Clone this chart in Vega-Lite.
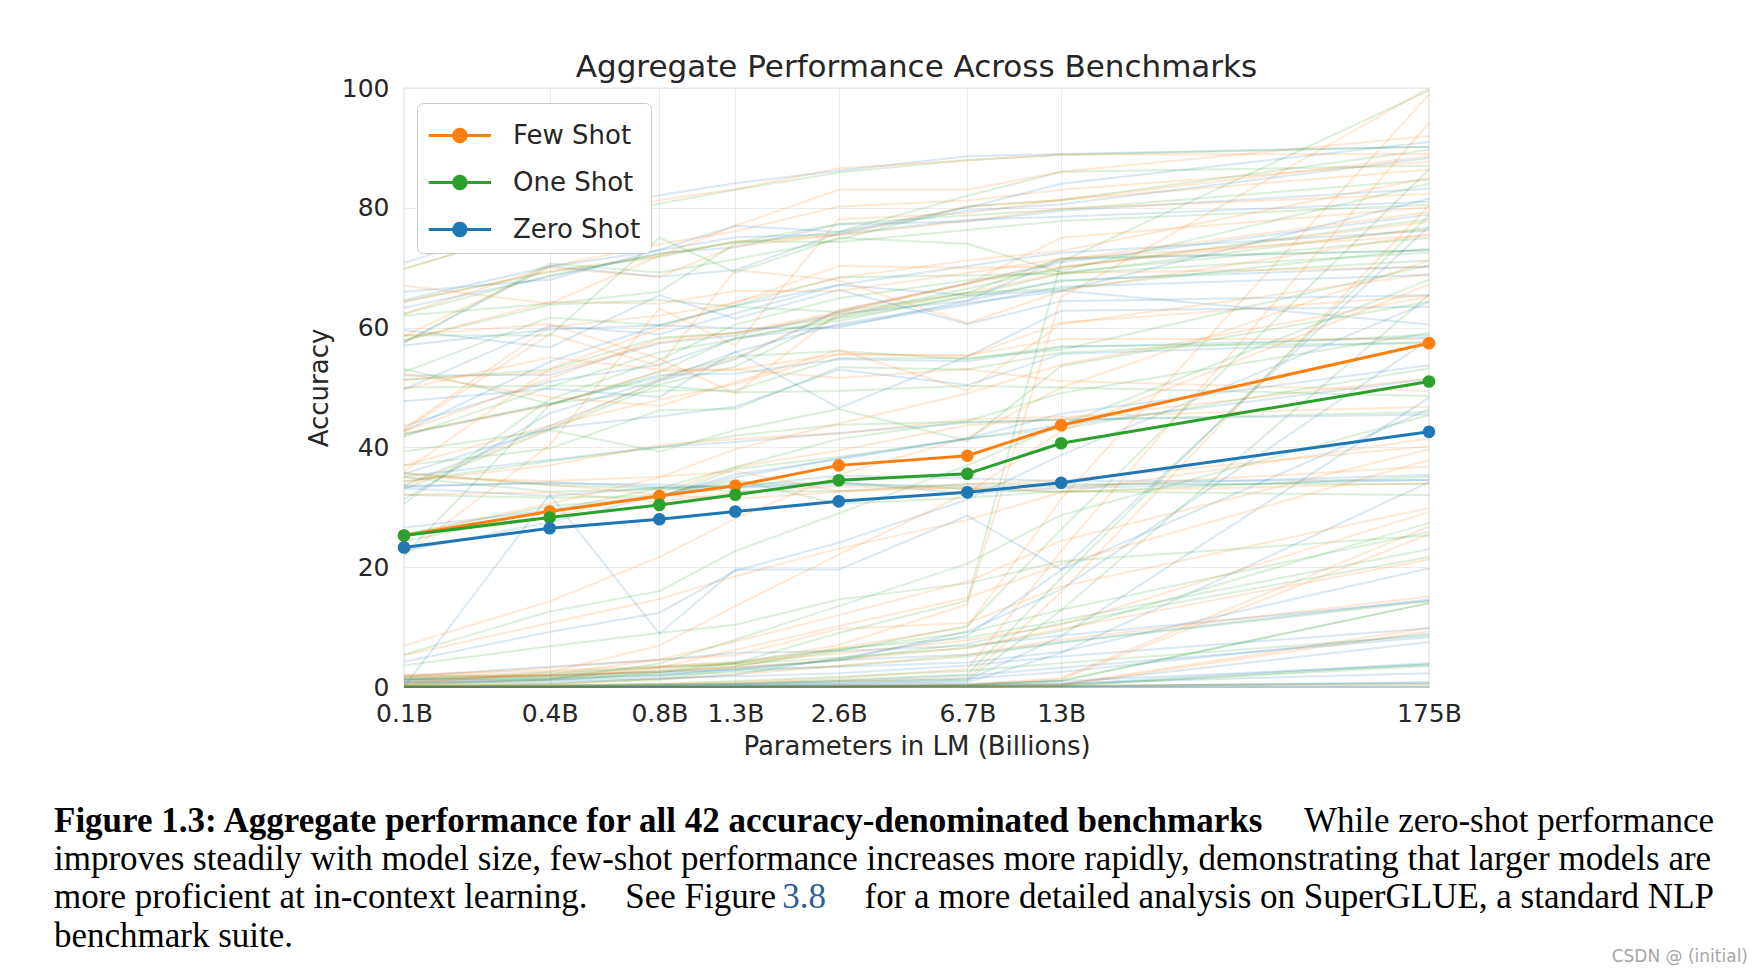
{
  "$schema": "https://vega.github.io/schema/vega-lite/v6.json",
  "width": 1025,
  "height": 599,
  "autosize": {"type": "none"},
  "padding": {"left": 404, "top": 88, "right": 334, "bottom": 288},
  "background": "white",
  "config": {
    "font": "DejaVu Sans",
    "view": {"stroke": "#cccccc", "strokeWidth": 1.25},
    "axis": {
      "grid": true, "gridColor": "#ebebeb", "gridWidth": 1,
      "domain": false, "ticks": false,
      "labelFont": "DejaVu Sans", "labelFontSize": 25, "labelColor": "#262626",
      "titleFont": "DejaVu Sans", "titleFontSize": 26, "titleFontWeight": "normal", "titleColor": "#262626",
      "labelFlush": false, "labelOverlap": false
    },
    "legend": {
      "orient": "none", "legendX": 13, "legendY": 15, "title": null,
      "symbolType": "M-1,0L2,0M0.8,0L0.777,0.115L0.712,0.212L0.615,0.277L0.5,0.3L0.385,0.277L0.288,0.212L0.223,0.115L0.2,0L0.223,-0.115L0.288,-0.212L0.385,-0.277L0.5,-0.3L0.615,-0.277L0.712,-0.212L0.777,-0.115Z",
      "symbolSize": 1722, "symbolStrokeWidth": 3, "symbolOpacity": 1,
      "labelFont": "DejaVu Sans", "labelFontSize": 26, "labelColor": "#262626",
      "labelOffset": 41, "rowPadding": 11, "padding": 10,
      "fillColor": "#ffffff", "strokeColor": "#cccccc", "cornerRadius": 6
    }
  },
  "title": {
    "text": "Aggregate Performance Across Benchmarks",
    "font": "DejaVu Sans", "fontSize": 31, "fontWeight": "normal", "color": "#262626",
    "anchor": "middle", "frame": "group", "offset": -32, "baseline": "alphabetic"
  },
  "datasets": {
    "sizes": [
      {"k": "v0", "size": 0.125}, {"k": "v1", "size": 0.35}, {"k": "v2", "size": 0.76}, {"k": "v3", "size": 1.3},
      {"k": "v4", "size": 2.7}, {"k": "v5", "size": 6.7}, {"k": "v6", "size": 13}, {"k": "v7", "size": 175}
    ],
    "main": [
      {"shot": "Few Shot", "size": 0.125, "acc": 25.3}, {"shot": "Few Shot", "size": 0.35, "acc": 29.3},
      {"shot": "Few Shot", "size": 0.76, "acc": 31.9}, {"shot": "Few Shot", "size": 1.3, "acc": 33.6},
      {"shot": "Few Shot", "size": 2.7, "acc": 37.0}, {"shot": "Few Shot", "size": 6.7, "acc": 38.6},
      {"shot": "Few Shot", "size": 13, "acc": 43.7}, {"shot": "Few Shot", "size": 175, "acc": 57.4},
      {"shot": "One Shot", "size": 0.125, "acc": 25.3}, {"shot": "One Shot", "size": 0.35, "acc": 28.3},
      {"shot": "One Shot", "size": 0.76, "acc": 30.4}, {"shot": "One Shot", "size": 1.3, "acc": 32.1},
      {"shot": "One Shot", "size": 2.7, "acc": 34.5}, {"shot": "One Shot", "size": 6.7, "acc": 35.6},
      {"shot": "One Shot", "size": 13, "acc": 40.7}, {"shot": "One Shot", "size": 175, "acc": 51.0},
      {"shot": "Zero Shot", "size": 0.125, "acc": 23.3}, {"shot": "Zero Shot", "size": 0.35, "acc": 26.5},
      {"shot": "Zero Shot", "size": 0.76, "acc": 28.0}, {"shot": "Zero Shot", "size": 1.3, "acc": 29.3},
      {"shot": "Zero Shot", "size": 2.7, "acc": 31.0}, {"shot": "Zero Shot", "size": 6.7, "acc": 32.5},
      {"shot": "Zero Shot", "size": 13, "acc": 34.1}, {"shot": "Zero Shot", "size": 175, "acc": 42.6}
    ],
    "caption": [
      {"part": "l1a", "t": "Figure 1.3: Aggregate performance for all 42 accuracy-denominated benchmarks"},
      {"part": "l1b", "t": "While zero-shot performance"},
      {"part": "l2", "t": "improves steadily with model size, few-shot performance increases more rapidly, demonstrating that larger models are"},
      {"part": "l3a", "t": "more proficient at in-context learning."},
      {"part": "l3d", "t": "See Figure"},
      {"part": "l3b", "t": "3.8"},
      {"part": "l3c", "t": "for a more detailed analysis on SuperGLUE, a standard NLP"},
      {"part": "l4", "t": "benchmark suite."},
      {"part": "wm", "t": "CSDN @ (initial)"}
    ],
    "bench": [
      {"bench": "LAMBADA", "shot": "Zero Shot", "v0": 42.7, "v1": 54.3, "v2": 60.4, "v3": 63.6, "v4": 67.1, "v5": 70.3, "v6": 72.5, "v7": 76.2},
      {"bench": "LAMBADA", "shot": "One Shot", "v0": 22.0, "v1": 47.1, "v2": 52.6, "v3": 58.3, "v4": 61.1, "v5": 65.4, "v6": 69.0, "v7": 72.5},
      {"bench": "LAMBADA", "shot": "Few Shot", "v0": 22.0, "v1": 40.4, "v2": 63.2, "v3": 57.0, "v4": 78.1, "v5": 79.1, "v6": 81.3, "v7": 86.4},
      {"bench": "HellaSwag", "shot": "Zero Shot", "v0": 33.7, "v1": 43.6, "v2": 51.0, "v3": 54.7, "v4": 62.8, "v5": 67.4, "v6": 70.9, "v7": 78.9},
      {"bench": "HellaSwag", "shot": "One Shot", "v0": 33.0, "v1": 42.9, "v2": 50.5, "v3": 53.5, "v4": 61.9, "v5": 66.5, "v6": 70.0, "v7": 78.1},
      {"bench": "HellaSwag", "shot": "Few Shot", "v0": 33.5, "v1": 43.1, "v2": 51.3, "v3": 54.9, "v4": 62.9, "v5": 67.3, "v6": 71.3, "v7": 79.3},
      {"bench": "StoryCloze", "shot": "Zero Shot", "v0": 63.3, "v1": 68.5, "v2": 72.4, "v3": 73.4, "v4": 77.2, "v5": 77.7, "v6": 79.5, "v7": 83.2},
      {"bench": "StoryCloze", "shot": "One Shot", "v0": 62.3, "v1": 68.7, "v2": 72.3, "v3": 74.2, "v4": 77.3, "v5": 78.7, "v6": 79.7, "v7": 84.7},
      {"bench": "StoryCloze", "shot": "Few Shot", "v0": 62.3, "v1": 70.2, "v2": 73.9, "v3": 76.1, "v4": 80.2, "v5": 81.2, "v6": 83.0, "v7": 87.7},
      {"bench": "NQ", "shot": "Zero Shot", "v0": 0.8, "v1": 1.3, "v2": 2.1, "v3": 3.0, "v4": 4.5, "v5": 5.4, "v6": 7.5, "v7": 14.6},
      {"bench": "NQ", "shot": "One Shot", "v0": 1.2, "v1": 2.1, "v2": 3.4, "v3": 4.2, "v4": 6.4, "v5": 8.2, "v6": 11.1, "v7": 23.0},
      {"bench": "NQ", "shot": "Few Shot", "v0": 1.7, "v1": 3.2, "v2": 4.6, "v3": 5.3, "v4": 9.7, "v5": 10.7, "v6": 16.8, "v7": 29.9},
      {"bench": "WebQ", "shot": "Zero Shot", "v0": 1.8, "v1": 3.4, "v2": 4.5, "v3": 5.7, "v4": 6.0, "v5": 6.9, "v6": 8.6, "v7": 14.4},
      {"bench": "WebQ", "shot": "One Shot", "v0": 3.6, "v1": 6.8, "v2": 9.0, "v3": 10.4, "v4": 14.6, "v5": 17.3, "v6": 21.0, "v7": 25.3},
      {"bench": "WebQ", "shot": "Few Shot", "v0": 5.3, "v1": 10.7, "v2": 14.7, "v3": 18.5, "v4": 23.1, "v5": 27.9, "v6": 32.5, "v7": 41.5},
      {"bench": "TriviaQA", "shot": "Zero Shot", "v0": 4.2, "v1": 9.2, "v2": 12.4, "v3": 19.4, "v4": 24.1, "v5": 31.3, "v6": 38.7, "v7": 64.3},
      {"bench": "TriviaQA", "shot": "One Shot", "v0": 5.4, "v1": 12.6, "v2": 16.0, "v3": 22.7, "v4": 29.0, "v5": 37.0, "v6": 43.7, "v7": 68.0},
      {"bench": "TriviaQA", "shot": "Few Shot", "v0": 6.9, "v1": 14.3, "v2": 21.7, "v3": 28.1, "v4": 35.4, "v5": 41.6, "v6": 50.0, "v7": 71.2},
      {"bench": "PIQA", "shot": "Zero Shot", "v0": 64.6, "v1": 70.2, "v2": 72.9, "v3": 75.1, "v4": 75.6, "v5": 78.0, "v6": 78.5, "v7": 81.0},
      {"bench": "PIQA", "shot": "One Shot", "v0": 64.3, "v1": 69.3, "v2": 71.8, "v3": 74.4, "v4": 74.3, "v5": 76.3, "v6": 77.8, "v7": 80.5},
      {"bench": "PIQA", "shot": "Few Shot", "v0": 64.3, "v1": 69.4, "v2": 72.0, "v3": 74.3, "v4": 75.4, "v5": 77.8, "v6": 79.9, "v7": 82.3},
      {"bench": "ARC-e", "shot": "Zero Shot", "v0": 43.6, "v1": 51.0, "v2": 53.8, "v3": 58.2, "v4": 60.3, "v5": 63.8, "v6": 66.8, "v7": 68.8},
      {"bench": "ARC-e", "shot": "One Shot", "v0": 41.8, "v1": 50.1, "v2": 55.9, "v3": 58.0, "v4": 61.5, "v5": 65.1, "v6": 67.7, "v7": 71.2},
      {"bench": "ARC-e", "shot": "Few Shot", "v0": 42.7, "v1": 51.5, "v2": 58.1, "v3": 59.1, "v4": 62.1, "v5": 65.8, "v6": 69.1, "v7": 70.1},
      {"bench": "ARC-c", "shot": "Zero Shot", "v0": 26.6, "v1": 29.5, "v2": 31.8, "v3": 35.5, "v4": 38.0, "v5": 41.4, "v6": 43.7, "v7": 51.4},
      {"bench": "ARC-c", "shot": "One Shot", "v0": 25.5, "v1": 30.2, "v2": 31.6, "v3": 36.4, "v4": 38.4, "v5": 41.5, "v6": 43.1, "v7": 53.2},
      {"bench": "ARC-c", "shot": "Few Shot", "v0": 25.5, "v1": 28.4, "v2": 32.3, "v3": 36.7, "v4": 39.5, "v5": 43.7, "v6": 44.8, "v7": 51.5},
      {"bench": "OpenBookQA", "shot": "Zero Shot", "v0": 35.6, "v1": 43.2, "v2": 45.2, "v3": 46.8, "v4": 53.0, "v5": 50.4, "v6": 55.6, "v7": 57.6},
      {"bench": "OpenBookQA", "shot": "One Shot", "v0": 37.0, "v1": 39.8, "v2": 46.2, "v3": 46.4, "v4": 53.4, "v5": 53.0, "v6": 55.8, "v7": 58.8},
      {"bench": "OpenBookQA", "shot": "Few Shot", "v0": 37.0, "v1": 43.6, "v2": 48.0, "v3": 50.6, "v4": 55.6, "v5": 55.2, "v6": 60.8, "v7": 65.4},
      {"bench": "RACE-h", "shot": "Zero Shot", "v0": 35.2, "v1": 37.9, "v2": 40.1, "v3": 40.9, "v4": 42.4, "v5": 44.1, "v6": 44.6, "v7": 45.5},
      {"bench": "RACE-h", "shot": "One Shot", "v0": 34.3, "v1": 37.7, "v2": 40.0, "v3": 42.0, "v4": 43.8, "v5": 44.3, "v6": 44.6, "v7": 45.9},
      {"bench": "RACE-h", "shot": "Few Shot", "v0": 34.3, "v1": 37.0, "v2": 40.4, "v3": 41.4, "v4": 42.3, "v5": 44.7, "v6": 45.1, "v7": 46.8},
      {"bench": "RACE-m", "shot": "Zero Shot", "v0": 42.1, "v1": 47.2, "v2": 52.1, "v3": 52.3, "v4": 54.7, "v5": 54.4, "v6": 56.7, "v7": 58.4},
      {"bench": "RACE-m", "shot": "One Shot", "v0": 42.3, "v1": 47.3, "v2": 51.7, "v3": 55.2, "v4": 56.1, "v5": 54.7, "v6": 56.9, "v7": 57.4},
      {"bench": "RACE-m", "shot": "Few Shot", "v0": 42.3, "v1": 47.0, "v2": 52.7, "v3": 53.0, "v4": 55.6, "v5": 55.4, "v6": 58.1, "v7": 58.1},
      {"bench": "Winograd", "shot": "Zero Shot", "v0": 57.5, "v1": 70.3, "v2": 68.5, "v3": 69.6, "v4": 75.8, "v5": 79.5, "v6": 80.6, "v7": 88.3},
      {"bench": "Winograd", "shot": "One Shot", "v0": 57.5, "v1": 70.7, "v2": 69.2, "v3": 71.4, "v4": 74.7, "v5": 80.2, "v6": 81.3, "v7": 89.7},
      {"bench": "Winograd", "shot": "Few Shot", "v0": 58.6, "v1": 70.0, "v2": 68.5, "v3": 73.6, "v4": 75.5, "v5": 80.2, "v6": 81.3, "v7": 88.6},
      {"bench": "Winogrande", "shot": "Zero Shot", "v0": 52.0, "v1": 52.1, "v2": 57.4, "v3": 58.7, "v4": 62.3, "v5": 64.5, "v6": 67.9, "v7": 70.2},
      {"bench": "Winogrande", "shot": "One Shot", "v0": 51.3, "v1": 53.0, "v2": 58.3, "v3": 59.1, "v4": 61.7, "v5": 65.8, "v6": 66.5, "v7": 73.2},
      {"bench": "Winogrande", "shot": "Few Shot", "v0": 51.3, "v1": 52.6, "v2": 57.5, "v3": 59.1, "v4": 62.6, "v5": 67.4, "v6": 70.0, "v7": 77.7},
      {"bench": "BoolQ", "shot": "Zero Shot", "v0": 49.7, "v1": 60.3, "v2": 58.9, "v3": 62.4, "v4": 67.1, "v5": 65.4, "v6": 66.2, "v7": 60.5},
      {"bench": "BoolQ", "shot": "One Shot", "v0": 52.6, "v1": 61.7, "v2": 60.4, "v3": 63.7, "v4": 68.4, "v5": 68.7, "v6": 69.0, "v7": 76.7},
      {"bench": "BoolQ", "shot": "Few Shot", "v0": 43.1, "v1": 60.1, "v2": 62.0, "v3": 64.1, "v4": 70.3, "v5": 70.0, "v6": 70.2, "v7": 76.4},
      {"bench": "CB", "shot": "Zero Shot", "v0": 0.0, "v1": 32.1, "v2": 8.9, "v3": 19.6, "v4": 19.6, "v5": 28.6, "v6": 19.6, "v7": 46.4},
      {"bench": "CB", "shot": "One Shot", "v0": 39.3, "v1": 42.9, "v2": 39.3, "v3": 42.9, "v4": 46.4, "v5": 41.1, "v6": 53.6, "v7": 64.3},
      {"bench": "CB", "shot": "Few Shot", "v0": 42.9, "v1": 58.9, "v2": 53.6, "v3": 69.6, "v4": 67.9, "v5": 60.7, "v6": 66.1, "v7": 75.6},
      {"bench": "COPA", "shot": "Zero Shot", "v0": 66, "v1": 68, "v2": 73, "v3": 77, "v4": 76, "v5": 80, "v6": 84, "v7": 91},
      {"bench": "COPA", "shot": "One Shot", "v0": 62, "v1": 64, "v2": 66, "v3": 74, "v4": 76, "v5": 82, "v6": 86, "v7": 87},
      {"bench": "COPA", "shot": "Few Shot", "v0": 67, "v1": 64, "v2": 72, "v3": 77, "v4": 83, "v5": 83, "v6": 86, "v7": 92},
      {"bench": "RTE", "shot": "Zero Shot", "v0": 47.7, "v1": 49.8, "v2": 48.4, "v3": 56.0, "v4": 46.6, "v5": 55.2, "v6": 62.8, "v7": 63.5},
      {"bench": "RTE", "shot": "One Shot", "v0": 53.1, "v1": 47.3, "v2": 49.5, "v3": 49.5, "v4": 54.9, "v5": 54.9, "v6": 56.3, "v7": 70.4},
      {"bench": "RTE", "shot": "Few Shot", "v0": 52.3, "v1": 48.4, "v2": 46.9, "v3": 50.9, "v4": 56.3, "v5": 49.5, "v6": 60.6, "v7": 69.0},
      {"bench": "WiC", "shot": "Zero Shot", "v0": 0, "v1": 0, "v2": 0, "v3": 0, "v4": 0, "v5": 0, "v6": 0, "v7": 0},
      {"bench": "WiC", "shot": "One Shot", "v0": 50.0, "v1": 50.3, "v2": 50.3, "v3": 49.2, "v4": 49.4, "v5": 50.3, "v6": 50.0, "v7": 48.6},
      {"bench": "WiC", "shot": "Few Shot", "v0": 49.8, "v1": 55.0, "v2": 53.0, "v3": 53.0, "v4": 51.6, "v5": 53.1, "v6": 51.1, "v7": 49.4},
      {"bench": "WSC", "shot": "Zero Shot", "v0": 59.6, "v1": 56.7, "v2": 65.4, "v3": 61.5, "v4": 66.3, "v5": 60.6, "v6": 64.4, "v7": 65.4},
      {"bench": "WSC", "shot": "One Shot", "v0": 58.7, "v1": 58.7, "v2": 75.0, "v3": 69.2, "v4": 75.0, "v5": 74.0, "v6": 69.2, "v7": 75.0},
      {"bench": "WSC", "shot": "Few Shot", "v0": 58.7, "v1": 60.6, "v2": 54.8, "v3": 49.0, "v4": 62.5, "v5": 67.3, "v6": 75.0, "v7": 80.1},
      {"bench": "MultiRC", "shot": "Zero Shot", "v0": 57.0, "v1": 59.7, "v2": 60.4, "v3": 59.9, "v4": 60.0, "v5": 64.5, "v6": 71.4, "v7": 72.9},
      {"bench": "MultiRC", "shot": "One Shot", "v0": 57.9, "v1": 63.8, "v2": 64.6, "v3": 63.5, "v4": 62.6, "v5": 65.8, "v6": 71.6, "v7": 72.9},
      {"bench": "MultiRC", "shot": "Few Shot", "v0": 57.9, "v1": 64.3, "v2": 64.0, "v3": 66.1, "v4": 66.1, "v5": 69.1, "v6": 71.5, "v7": 75.4},
      {"bench": "ReCoRD", "shot": "Zero Shot", "v0": 70.8, "v1": 78.5, "v2": 82.1, "v3": 84.1, "v4": 86.2, "v5": 88.6, "v6": 89.0, "v7": 90.2},
      {"bench": "ReCoRD", "shot": "One Shot", "v0": 69.8, "v1": 77.0, "v2": 80.7, "v3": 83.0, "v4": 85.9, "v5": 88.0, "v6": 88.8, "v7": 90.2},
      {"bench": "ReCoRD", "shot": "Few Shot", "v0": 69.8, "v1": 77.2, "v2": 81.3, "v3": 83.1, "v4": 86.6, "v5": 87.9, "v6": 88.9, "v7": 89.0},
      {"bench": "ANLI R1", "shot": "Zero Shot", "v0": 33.4, "v1": 34.2, "v2": 33.4, "v3": 33.4, "v4": 34.2, "v5": 32.3, "v6": 33.2, "v7": 34.6},
      {"bench": "ANLI R1", "shot": "One Shot", "v0": 32.1, "v1": 31.6, "v2": 31.9, "v3": 34.6, "v4": 30.6, "v5": 31.6, "v6": 32.7, "v7": 32.0},
      {"bench": "ANLI R1", "shot": "Few Shot", "v0": 32.1, "v1": 32.5, "v2": 30.9, "v3": 32.5, "v4": 33.5, "v5": 33.1, "v6": 33.3, "v7": 36.8},
      {"bench": "ANLI R2", "shot": "Zero Shot", "v0": 33.2, "v1": 31.9, "v2": 33.3, "v3": 33.3, "v4": 33.8, "v5": 33.5, "v6": 33.5, "v7": 35.4},
      {"bench": "ANLI R2", "shot": "One Shot", "v0": 35.7, "v1": 33.7, "v2": 33.2, "v3": 32.7, "v4": 32.7, "v5": 33.9, "v6": 33.9, "v7": 33.9},
      {"bench": "ANLI R2", "shot": "Few Shot", "v0": 35.7, "v1": 33.8, "v2": 32.1, "v3": 31.4, "v4": 32.6, "v5": 33.3, "v6": 32.6, "v7": 34.0},
      {"bench": "ANLI R3", "shot": "Zero Shot", "v0": 33.6, "v1": 34.0, "v2": 33.8, "v3": 33.4, "v4": 35.3, "v5": 34.8, "v6": 34.4, "v7": 34.5},
      {"bench": "ANLI R3", "shot": "One Shot", "v0": 35.0, "v1": 32.6, "v2": 33.0, "v3": 33.9, "v4": 34.1, "v5": 33.1, "v6": 32.5, "v7": 35.1},
      {"bench": "ANLI R3", "shot": "Few Shot", "v0": 35.0, "v1": 34.4, "v2": 35.1, "v3": 36.0, "v4": 32.7, "v5": 33.9, "v6": 34.5, "v7": 40.2},
      {"bench": "2D+", "shot": "Zero Shot", "v0": 0.8, "v1": 0.7, "v2": 1.3, "v3": 2.1, "v4": 4.8, "v5": 8.6, "v6": 19.5, "v7": 76.9},
      {"bench": "2D+", "shot": "One Shot", "v0": 1.2, "v1": 1.5, "v2": 2.8, "v3": 4.0, "v4": 9.0, "v5": 14.4, "v6": 71.0, "v7": 99.6},
      {"bench": "2D+", "shot": "Few Shot", "v0": 1.9, "v1": 1.9, "v2": 3.2, "v3": 3.9, "v4": 7.0, "v5": 13.8, "v6": 65.1, "v7": 100.0},
      {"bench": "2D-", "shot": "Zero Shot", "v0": 1.2, "v1": 1.3, "v2": 1.8, "v3": 3.2, "v4": 4.4, "v5": 9.3, "v6": 16.3, "v7": 58.0},
      {"bench": "2D-", "shot": "One Shot", "v0": 1.4, "v1": 1.8, "v2": 2.4, "v3": 3.5, "v4": 6.0, "v5": 10.2, "v6": 26.3, "v7": 86.4},
      {"bench": "2D-", "shot": "Few Shot", "v0": 1.8, "v1": 1.9, "v2": 2.6, "v3": 3.4, "v4": 6.5, "v5": 10.0, "v6": 31.4, "v7": 98.9},
      {"bench": "3D+", "shot": "Zero Shot", "v0": 0.0, "v1": 0.1, "v2": 0.2, "v3": 0.3, "v4": 0.4, "v5": 0.8, "v6": 5.7, "v7": 34.2},
      {"bench": "3D+", "shot": "One Shot", "v0": 0.1, "v1": 0.2, "v2": 0.3, "v3": 0.5, "v4": 0.9, "v5": 1.2, "v6": 12.8, "v7": 65.5},
      {"bench": "3D+", "shot": "Few Shot", "v0": 0.1, "v1": 0.2, "v2": 0.4, "v3": 0.6, "v4": 1.0, "v5": 1.5, "v6": 15.8, "v7": 80.4},
      {"bench": "3D-", "shot": "Zero Shot", "v0": 0.1, "v1": 0.1, "v2": 0.2, "v3": 0.3, "v4": 0.5, "v5": 1.1, "v6": 8.5, "v7": 48.3},
      {"bench": "3D-", "shot": "One Shot", "v0": 0.2, "v1": 0.3, "v2": 0.4, "v3": 0.6, "v4": 1.2, "v5": 2.1, "v6": 18.2, "v7": 78.7},
      {"bench": "3D-", "shot": "Few Shot", "v0": 0.2, "v1": 0.3, "v2": 0.5, "v3": 0.8, "v4": 1.5, "v5": 3.0, "v6": 22.7, "v7": 94.2},
      {"bench": "4D+", "shot": "Zero Shot", "v0": 0, "v1": 0, "v2": 0, "v3": 0, "v4": 0.1, "v5": 0.2, "v6": 0.4, "v7": 4.0},
      {"bench": "4D+", "shot": "One Shot", "v0": 0, "v1": 0, "v2": 0, "v3": 0.1, "v4": 0.1, "v5": 0.3, "v6": 1.0, "v7": 14.0},
      {"bench": "4D+", "shot": "Few Shot", "v0": 0, "v1": 0, "v2": 0, "v3": 0.1, "v4": 0.2, "v5": 0.3, "v6": 1.3, "v7": 25.5},
      {"bench": "4D-", "shot": "Zero Shot", "v0": 0, "v1": 0, "v2": 0, "v3": 0, "v4": 0.1, "v5": 0.2, "v6": 0.5, "v7": 7.5},
      {"bench": "4D-", "shot": "One Shot", "v0": 0, "v1": 0, "v2": 0, "v3": 0.1, "v4": 0.1, "v5": 0.3, "v6": 1.1, "v7": 14.0},
      {"bench": "4D-", "shot": "Few Shot", "v0": 0, "v1": 0, "v2": 0, "v3": 0.1, "v4": 0.2, "v5": 0.4, "v6": 1.5, "v7": 26.8},
      {"bench": "5D+", "shot": "Zero Shot", "v0": 0, "v1": 0, "v2": 0, "v3": 0, "v4": 0, "v5": 0, "v6": 0.1, "v7": 0.7},
      {"bench": "5D+", "shot": "One Shot", "v0": 0, "v1": 0, "v2": 0, "v3": 0, "v4": 0, "v5": 0.1, "v6": 0.2, "v7": 3.5},
      {"bench": "5D+", "shot": "Few Shot", "v0": 0, "v1": 0, "v2": 0, "v3": 0, "v4": 0, "v5": 0.1, "v6": 0.3, "v7": 9.3},
      {"bench": "5D-", "shot": "Zero Shot", "v0": 0, "v1": 0, "v2": 0, "v3": 0, "v4": 0, "v5": 0, "v6": 0.1, "v7": 0.8},
      {"bench": "5D-", "shot": "One Shot", "v0": 0, "v1": 0, "v2": 0, "v3": 0, "v4": 0, "v5": 0.1, "v6": 0.2, "v7": 3.8},
      {"bench": "5D-", "shot": "Few Shot", "v0": 0, "v1": 0, "v2": 0, "v3": 0, "v4": 0, "v5": 0.1, "v6": 0.4, "v7": 9.9},
      {"bench": "2Dx", "shot": "Zero Shot", "v0": 1.3, "v1": 1.9, "v2": 2.5, "v3": 2.9, "v4": 3.4, "v5": 4.1, "v6": 5.9, "v7": 19.8},
      {"bench": "2Dx", "shot": "One Shot", "v0": 1.6, "v1": 2.4, "v2": 3.3, "v3": 3.8, "v4": 4.9, "v5": 6.5, "v6": 9.4, "v7": 27.4},
      {"bench": "2Dx", "shot": "Few Shot", "v0": 2.1, "v1": 2.7, "v2": 3.5, "v3": 4.0, "v4": 5.6, "v5": 7.8, "v6": 10.4, "v7": 29.2},
      {"bench": "1DC", "shot": "Zero Shot", "v0": 0.8, "v1": 1.1, "v2": 1.4, "v3": 1.8, "v4": 2.3, "v5": 3.6, "v6": 5.1, "v7": 9.8},
      {"bench": "1DC", "shot": "One Shot", "v0": 1.1, "v1": 1.6, "v2": 2.0, "v3": 2.5, "v4": 3.5, "v5": 5.1, "v6": 7.4, "v7": 14.3},
      {"bench": "1DC", "shot": "Few Shot", "v0": 1.4, "v1": 2.0, "v2": 2.6, "v3": 3.3, "v4": 4.5, "v5": 6.6, "v6": 9.7, "v7": 21.3},
      {"bench": "CycledLetters", "shot": "Zero Shot", "v0": 0, "v1": 0, "v2": 0, "v3": 0.1, "v4": 0.2, "v5": 0.5, "v6": 1.0, "v7": 3.7},
      {"bench": "CycledLetters", "shot": "One Shot", "v0": 0.2, "v1": 0.5, "v2": 1.4, "v3": 2.8, "v4": 4.6, "v5": 7.2, "v6": 10.6, "v7": 21.7},
      {"bench": "CycledLetters", "shot": "Few Shot", "v0": 0.5, "v1": 1.3, "v2": 3.2, "v3": 6.2, "v4": 10.2, "v5": 14.9, "v6": 20.5, "v7": 37.9},
      {"bench": "Anagrams1", "shot": "Zero Shot", "v0": 0, "v1": 0, "v2": 0, "v3": 0, "v4": 0.1, "v5": 0.3, "v6": 0.6, "v7": 2.3},
      {"bench": "Anagrams1", "shot": "One Shot", "v0": 0.1, "v1": 0.2, "v2": 0.5, "v3": 1.0, "v4": 1.7, "v5": 2.7, "v6": 4.0, "v7": 8.6},
      {"bench": "Anagrams1", "shot": "Few Shot", "v0": 0.2, "v1": 0.5, "v2": 1.2, "v3": 2.1, "v4": 3.5, "v5": 5.4, "v6": 7.9, "v7": 15.1},
      {"bench": "Anagrams2", "shot": "Zero Shot", "v0": 0, "v1": 0.1, "v2": 0.2, "v3": 0.3, "v4": 0.7, "v5": 1.4, "v6": 2.5, "v7": 8.9},
      {"bench": "Anagrams2", "shot": "One Shot", "v0": 0.4, "v1": 1.1, "v2": 2.4, "v3": 4.0, "v4": 6.2, "v5": 9.1, "v6": 12.9, "v7": 25.9},
      {"bench": "Anagrams2", "shot": "Few Shot", "v0": 0.8, "v1": 2.1, "v2": 4.6, "v3": 7.6, "v4": 12.0, "v5": 17.6, "v6": 24.4, "v7": 39.7},
      {"bench": "RandomInsertion", "shot": "Zero Shot", "v0": 0, "v1": 0.1, "v2": 0.3, "v3": 0.5, "v4": 1.0, "v5": 1.9, "v6": 3.2, "v7": 8.3},
      {"bench": "RandomInsertion", "shot": "One Shot", "v0": 0.3, "v1": 1.3, "v2": 3.9, "v3": 7.9, "v4": 13.5, "v5": 20.6, "v6": 28.7, "v7": 45.4},
      {"bench": "RandomInsertion", "shot": "Few Shot", "v0": 0.5, "v1": 2.5, "v2": 6.9, "v3": 13.5, "v4": 22.1, "v5": 32.4, "v6": 42.7, "v7": 67.2},
      {"bench": "ReversedWords", "shot": "Zero Shot", "v0": 0, "v1": 0, "v2": 0, "v3": 0, "v4": 0, "v5": 0, "v6": 0, "v7": 0.1},
      {"bench": "ReversedWords", "shot": "One Shot", "v0": 0, "v1": 0, "v2": 0, "v3": 0, "v4": 0.1, "v5": 0.1, "v6": 0.2, "v7": 0.5},
      {"bench": "ReversedWords", "shot": "Few Shot", "v0": 0, "v1": 0, "v2": 0, "v3": 0, "v4": 0.1, "v5": 0.1, "v6": 0.2, "v7": 0.4},
      {"bench": "SAT", "shot": "Zero Shot", "v0": 22.7, "v1": 27.5, "v2": 32.0, "v3": 35.0, "v4": 38.2, "v5": 41.5, "v6": 45.6, "v7": 53.7},
      {"bench": "SAT", "shot": "One Shot", "v0": 24.3, "v1": 29.4, "v2": 33.2, "v3": 36.7, "v4": 41.4, "v5": 44.4, "v6": 49.1, "v7": 59.1},
      {"bench": "SAT", "shot": "Few Shot", "v0": 25.4, "v1": 30.6, "v2": 35.0, "v3": 39.7, "v4": 44.0, "v5": 49.0, "v6": 53.8, "v7": 65.2},
      {"bench": "CoQA", "shot": "Zero Shot", "v0": 31.3, "v1": 45.7, "v2": 51.3, "v3": 55.9, "v4": 60.6, "v5": 64.1, "v6": 66.1, "v7": 81.5},
      {"bench": "CoQA", "shot": "One Shot", "v0": 30.6, "v1": 48.0, "v2": 54.6, "v3": 60.5, "v4": 64.9, "v5": 67.9, "v6": 69.5, "v7": 84.0},
      {"bench": "CoQA", "shot": "Few Shot", "v0": 36.0, "v1": 53.1, "v2": 59.8, "v3": 64.3, "v4": 68.3, "v5": 71.2, "v6": 72.8, "v7": 85.0}
    ]
  },
  "layer": [
    {
      "data": {"name": "bench"},
      "transform": [
        {"fold": ["v0", "v1", "v2", "v3", "v4", "v5", "v6", "v7"], "as": ["k", "acc"]},
        {"lookup": "k", "from": {"data": {"name": "sizes"}, "key": "k", "fields": ["size"]}}
      ],
      "mark": {"type": "line", "strokeWidth": 2, "strokeOpacity": 0.17},
      "encoding": {
        "x": {
          "field": "size", "type": "quantitative",
          "scale": {"type": "log", "domain": [0.125, 175], "nice": false, "zero": false},
          "axis": {
            "values": [0.125, 0.35, 0.76, 1.3, 2.7, 6.7, 13, 175],
            "labelExpr": "datum.value < 0.2 ? '0.1B' : datum.value < 0.5 ? '0.4B' : datum.value < 1 ? '0.8B' : datum.value < 2 ? '1.3B' : datum.value < 4 ? '2.6B' : datum.value < 10 ? '6.7B' : datum.value < 100 ? '13B' : '175B'",
            "title": "Parameters in LM (Billions)",
            "labelPadding": 14, "titlePadding": 7
          }
        },
        "y": {
          "field": "acc", "type": "quantitative",
          "scale": {"domain": [0, 100], "nice": false},
          "axis": {"values": [0, 20, 40, 60, 80, 100], "title": "Accuracy", "labelPadding": 15, "titlePadding": 9}
        },
        "color": {
          "field": "shot", "type": "nominal",
          "scale": {"domain": ["Few Shot", "One Shot", "Zero Shot"], "range": ["#ff7f0e", "#2ca02c", "#1f77b4"]}
        },
        "detail": {"field": "bench", "type": "nominal"}
      }
    },
    {
      "data": {"name": "main"},
      "mark": {"type": "line", "strokeWidth": 3},
      "encoding": {
        "x": {"field": "size", "type": "quantitative"},
        "y": {"field": "acc", "type": "quantitative"},
        "color": {"field": "shot", "type": "nominal"}
      }
    },
    {
      "data": {"name": "main"},
      "mark": {"type": "point", "filled": true, "size": 160, "opacity": 1},
      "encoding": {
        "x": {"field": "size", "type": "quantitative"},
        "y": {"field": "acc", "type": "quantitative"},
        "color": {"field": "shot", "type": "nominal"}
      }
    },
    {
      "data": {"name": "caption"},
      "transform": [{"filter": "datum.part === 'l1a'"}],
      "mark": {"type": "text", "font": "Liberation Serif", "fontSize": 35, "fontWeight": "bold", "color": "#000000", "align": "left", "baseline": "alphabetic"},
      "encoding": {"text": {"field": "t"}, "x": {"value": -350}, "y": {"value": 744}}
    },
    {
      "data": {"name": "caption"},
      "transform": [{"filter": "datum.part === 'l1b'"}],
      "mark": {"type": "text", "font": "Liberation Serif", "fontSize": 35, "color": "#000000", "align": "right", "baseline": "alphabetic"},
      "encoding": {"text": {"field": "t"}, "x": {"value": 1310}, "y": {"value": 744}}
    },
    {
      "data": {"name": "caption"},
      "transform": [{"filter": "datum.part === 'l2'"}],
      "mark": {"type": "text", "font": "Liberation Serif", "fontSize": 35, "color": "#000000", "align": "left", "baseline": "alphabetic"},
      "encoding": {"text": {"field": "t"}, "x": {"value": -350}, "y": {"value": 782}}
    },
    {
      "data": {"name": "caption"},
      "transform": [{"filter": "datum.part === 'l3a'"}],
      "mark": {"type": "text", "font": "Liberation Serif", "fontSize": 35, "color": "#000000", "align": "left", "baseline": "alphabetic"},
      "encoding": {"text": {"field": "t"}, "x": {"value": -350}, "y": {"value": 820}}
    },
    {
      "data": {"name": "caption"},
      "transform": [{"filter": "datum.part === 'l3d'"}],
      "mark": {"type": "text", "font": "Liberation Serif", "fontSize": 35, "color": "#000000", "align": "right", "baseline": "alphabetic"},
      "encoding": {"text": {"field": "t"}, "x": {"value": 372}, "y": {"value": 820}}
    },
    {
      "data": {"name": "caption"},
      "transform": [{"filter": "datum.part === 'l3b'"}],
      "mark": {"type": "text", "font": "Liberation Serif", "fontSize": 35, "color": "#2e5c9a", "align": "center", "baseline": "alphabetic"},
      "encoding": {"text": {"field": "t"}, "x": {"value": 400}, "y": {"value": 820}}
    },
    {
      "data": {"name": "caption"},
      "transform": [{"filter": "datum.part === 'l3c'"}],
      "mark": {"type": "text", "font": "Liberation Serif", "fontSize": 35, "color": "#000000", "align": "right", "baseline": "alphabetic"},
      "encoding": {"text": {"field": "t"}, "x": {"value": 1310}, "y": {"value": 820}}
    },
    {
      "data": {"name": "caption"},
      "transform": [{"filter": "datum.part === 'l4'"}],
      "mark": {"type": "text", "font": "Liberation Serif", "fontSize": 35, "color": "#000000", "align": "left", "baseline": "alphabetic"},
      "encoding": {"text": {"field": "t"}, "x": {"value": -350}, "y": {"value": 859}}
    },
    {
      "data": {"name": "caption"},
      "transform": [{"filter": "datum.part === 'wm'"}],
      "mark": {"type": "text", "font": "DejaVu Sans", "fontSize": 17, "color": "#a6a6a6", "align": "right", "baseline": "alphabetic"},
      "encoding": {"text": {"field": "t"}, "x": {"value": 1344}, "y": {"value": 874}}
    }
  ]
}
